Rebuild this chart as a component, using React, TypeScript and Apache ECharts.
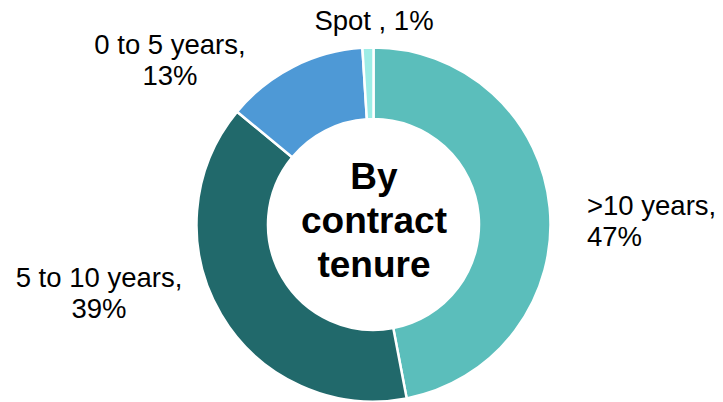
import React, { useEffect, useRef } from "react";
import * as echarts from "echarts";

const categories = ["Spot", ">10 years", "5 to 10 years", "0 to 5 years"];
const shares = [1, 47, 39, 13];
const colors = ["#9EEDE6", "#5BBEBB", "#21696B", "#4E99D6"];
const centerTitle = "By\ncontract\ntenure";

// label placement (style only): anchor x, y and text alignment
const labelPlacement = [
  { x: 374, y: 20, align: "center" },
  { x: 587, y: 221, align: "left" },
  { x: 99, y: 293, align: "center" },
  { x: 170, y: 60, align: "center" },
];

export default function App() {
  const ref = useRef<HTMLDivElement>(null);
  useEffect(() => {
    document.body.style.margin = "0";
    const chart = echarts.init(ref.current!, null, { renderer: "svg" });
    // order clockwise from 12 o'clock: >10, 5-10, 0-5, Spot
    const order = [1, 2, 3, 0];
    const data = order.map((i) => ({
      name: categories[i],
      value: shares[i],
      itemStyle: { color: colors[i] },
      placement: labelPlacement[i],
    }));
    chart.setOption({
      animation: false,
      backgroundColor: "#ffffff",
      graphic: [
        {
          type: "text",
          x: 374,
          y: 220,
          style: {
            text: centerTitle,
            fontFamily: "Liberation Sans, Arial, sans-serif",
            fontWeight: "bold",
            fontSize: 37,
            lineHeight: 44,
            fill: "#000",
            align: "center",
            verticalAlign: "middle",
          },
        },
      ],
      series: [
        {
          type: "pie",
          center: [373.5, 224.5],
          radius: [105.5, 177],
          startAngle: 90,
          clockwise: true,
          avoidLabelOverlap: false,
          itemStyle: { borderColor: "#ffffff", borderWidth: 2.5 },
          label: {
            show: true,
            position: "outside",
            formatter: (p: any) => `${p.name === "Spot" ? "Spot ," : p.name + ","}${p.name === "Spot" ? " " : "\n"}${p.value}%`,
            fontFamily: "Liberation Sans, Arial, sans-serif",
            fontSize: 27.5,
            lineHeight: 31,
            color: "#000",
          },
          labelLine: { show: false },
          labelLayout: (params: any) => {
            const pl = data[params.dataIndex].placement;
            return { x: pl.x, y: pl.y, align: pl.align, verticalAlign: "middle" };
          },
          data: data.map(({ placement, ...d }) => d),
        },
      ],
    });
    return () => chart.dispose();
  }, []);
  return <div ref={ref} style={{ width: 723, height: 402 }} />;
}
